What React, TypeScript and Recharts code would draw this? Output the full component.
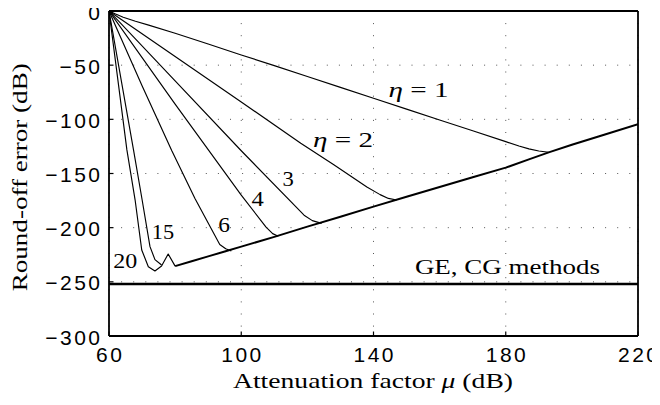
import React from 'react';
import { LineChart, Line, XAxis, YAxis, CartesianGrid, ReferenceDot, ReferenceLine } from 'recharts';

// ---- axes ----
const xTicks = [60, 100, 140, 180, 220];
const yTicks = [-300, -250, -200, -150, -100, -50, 0];

// ---- series (attenuation factor mu in dB, round-off error in dB) ----
const eta1X = [60, 62, 64.3, 68, 72, 80, 90, 100, 110, 120, 130, 140, 150, 160, 170, 180, 184, 187, 190, 193];
const eta1Y = [0, -2.8, -5.8, -9.5, -13, -20.5, -30.5, -40.6, -50.4, -60.4, -70.5, -80.6, -90.6, -100.6, -110.6, -120.6, -124.6, -127.3, -129.2, -130.4];

const eta2X = [60, 80, 100, 118, 128, 138, 142, 144.5, 147];
const eta2Y = [0, -42, -84, -122, -142, -162.5, -169.5, -173, -174.5];

const eta3X = [60, 80, 100, 119, 121.5, 124.3];
const eta3Y = [0, -64.5, -129, -188.5, -193.5, -196];

const eta4X = [60, 80, 100, 107.5, 109.5, 111.2];
const eta4Y = [0, -86, -170, -199.5, -205.5, -208];

const eta6X = [60, 70, 79, 86, 93.5, 95.3, 97];
const eta6Y = [0, -69, -129, -173, -215.5, -219.5, -221.5];

const eta15X = [60, 67.4, 70, 72.4, 73.9, 75.9];
const eta15Y = [0, -128, -174, -217.5, -229.5, -234.5];

const eta20X = [60, 65.4, 67.9, 69.9, 71.9, 73.9, 75.9, 77.9, 80];
const eta20Y = [0, -128, -174.5, -220.6, -236, -240, -235.4, -224.3, -235.5];

const floorX = [80, 85, 90, 95, 100, 110, 120, 130, 140, 150, 160, 170, 180, 187, 193, 200, 210, 220];
const floorY = [-235.5, -231, -226.5, -222, -217.5, -208.5, -199, -190, -180.6, -171.5, -162.5, -153.5, -144.6, -137, -130.5, -123.5, -114, -104.5];

const geX = [60, 220];
const geY = [-252, -252];

// ---- annotations ----
const annText = ['η = 1', 'η = 2', '3', '4', '6', '15', '20', 'GE, CG methods'];
const annX = [153.6, 130.8, 114.2, 105.0, 94.85, 76.3, 64.9, 180.5];
const annY = [-72.9, -118.8, -154.4, -173.7, -197.3, -204.0, -230.6, -236.0];

// ---- styling (not data) ----
const annWidths = [60, 60, 11.3, 12.3, 11.7, 22.3, 24, 185];
const SANS = "'Liberation Sans', Arial, Helvetica, sans-serif";
const SERIF = "'Liberation Serif', 'Times New Roman', serif";

const zip = (xs: number[], ys: number[]) => xs.map((x, i) => ({ x, y: ys[i] }));

const curves = [
  { key: 'ge', data: zip(geX, geY), w: 2.4 },
  { key: 'floor', data: zip(floorX, floorY), w: 2.0 },
  { key: 'eta1', data: zip(eta1X, eta1Y), w: 1.15 },
  { key: 'eta2', data: zip(eta2X, eta2Y), w: 1.15 },
  { key: 'eta3', data: zip(eta3X, eta3Y), w: 1.15 },
  { key: 'eta4', data: zip(eta4X, eta4Y), w: 1.15 },
  { key: 'eta6', data: zip(eta6X, eta6Y), w: 1.15 },
  { key: 'eta15', data: zip(eta15X, eta15Y), w: 1.15 },
  { key: 'eta20', data: zip(eta20X, eta20Y), w: 1.15 },
];

const fmt = (v: number) => (v < 0 ? '\u2212' + String(-v) : String(v));

const BottomTick = (p: any) => {
  const { x, y, payload } = p;
  return (
    <g>
      <line x1={x} x2={x} y1={y} y2={y - 4.5} stroke="#000" strokeWidth={1.2} />
      <text x={x + 1.25} y={y + 25.7} textAnchor="middle" fontFamily={SANS} fontSize={21} letterSpacing={2.5} fill="#000">
        {fmt(payload.value)}
      </text>
    </g>
  );
};

const LeftTick = (p: any) => {
  const { x, y, payload } = p;
  return (
    <g>
      <line x1={x} x2={x + 4.5} y1={y} y2={y} stroke="#000" strokeWidth={1.2} />
      <text x={x - 6.5} y={y + 8.5} textAnchor="end" fontFamily={SANS} fontSize={21} letterSpacing={2.5} fill="#000">
        {fmt(payload.value)}
      </text>
    </g>
  );
};

const TopTick = (p: any) => {
  const { x, y } = p;
  return <line x1={x} x2={x} y1={y} y2={y + 4.5} stroke="#000" strokeWidth={1.2} />;
};

const RightTick = (p: any) => {
  const { x, y } = p;
  return <line x1={x} x2={x - 4.5} y1={y} y2={y} stroke="#000" strokeWidth={1.2} />;
};

const YTitle = (props: any) => {
  const vb = props.viewBox || { x: 0, y: 11, width: 109, height: 325 };
  const cx = vb.x + 27;
  const cy = vb.y + vb.height / 2 + 3.8;
  return (
    <text
      x={cx}
      y={cy}
      transform={`rotate(-90, ${cx}, ${cy})`}
      textAnchor="middle"
      fontFamily={SERIF}
      fontSize={22}
      textLength={228}
      lengthAdjust="spacingAndGlyphs"
      fill="#000"
    >
      Round-off error (dB)
    </text>
  );
};

const XTitle = (props: any) => {
  const vb = props.viewBox || { x: 109, y: 336, width: 529, height: 69 };
  const cx = vb.x + vb.width / 2 - 0.5;
  const cy = vb.y + 52;
  return (
    <text x={cx} y={cy} textAnchor="middle" fontFamily={SERIF} fontSize={22} textLength={280} lengthAdjust="spacingAndGlyphs" fill="#000">
      <tspan>Attenuation factor </tspan>
      <tspan fontStyle="italic">μ</tspan>
      <tspan> (dB)</tspan>
    </text>
  );
};

const renderAnn = (i: number) => (p: any) => {
  const t = annText[i];
  const italicEta = t.startsWith('η');
  return (
    <text
      x={p.cx}
      y={p.cy}
      dy={7.3}
      textAnchor="middle"
      fontFamily={SERIF}
      fontSize={22}
      textLength={annWidths[i]}
      lengthAdjust="spacingAndGlyphs"
      fill="#000"
    >
      {italicEta ? (
        <>
          <tspan fontStyle="italic">η</tspan>
          <tspan>{t.slice(1)}</tspan>
        </>
      ) : (
        t
      )}
    </text>
  );
};

export default function App() {
  return (
    <div style={{ margin: '-8px 0 0 -8px', width: 660, height: 405 }}>
      <LineChart width={660} height={405} margin={{ top: 11, right: 22, left: 0, bottom: 0 }}>
        <CartesianGrid stroke="#555" strokeWidth={1} strokeDasharray="1 11.1" />
        <XAxis
          dataKey="x"
          type="number"
          domain={[60, 220]}
          ticks={xTicks}
          interval={0}
          allowDataOverflow
          height={69}
          tickSize={0}
          tickMargin={0}
          tickLine={false}
          tick={BottomTick}
          axisLine={{ stroke: '#000', strokeWidth: 1.8 }}
          label={{ content: XTitle }}
        />
        <XAxis
          xAxisId="top"
          orientation="top"
          dataKey="x"
          type="number"
          domain={[60, 220]}
          ticks={xTicks}
          interval={0}
          allowDataOverflow
          height={0}
          tickSize={0}
          tickMargin={0}
          tickLine={false}
          tick={TopTick}
          axisLine={{ stroke: '#000', strokeWidth: 1.8 }}
        />
        <YAxis
          dataKey="y"
          type="number"
          domain={[-300, 0]}
          ticks={yTicks}
          interval={0}
          allowDataOverflow
          width={109}
          tickSize={0}
          tickMargin={0}
          tickLine={false}
          tick={LeftTick}
          axisLine={{ stroke: '#000', strokeWidth: 1.8 }}
          label={{ content: YTitle }}
        />
        <YAxis
          yAxisId="right"
          orientation="right"
          dataKey="y"
          type="number"
          domain={[-300, 0]}
          ticks={yTicks}
          interval={0}
          allowDataOverflow
          width={0}
          tickSize={0}
          tickMargin={0}
          tickLine={false}
          tick={RightTick}
          axisLine={{ stroke: '#000', strokeWidth: 1.8 }}
        />
        <ReferenceLine y={0} stroke="#000" strokeWidth={1.8} ifOverflow="visible" />
        <ReferenceLine x={220} stroke="#000" strokeWidth={1.8} ifOverflow="visible" />
        {curves.map((c) => (
          <Line
            key={c.key}
            data={c.data}
            dataKey="y"
            type="linear"
            stroke="#000"
            strokeWidth={c.w}
            dot={false}
            activeDot={false}
            isAnimationActive={false}
            strokeLinejoin="round"
          />
        ))}
        {annText.map((t, i) => (
          <ReferenceDot key={t} x={annX[i]} y={annY[i]} r={0} ifOverflow="visible" shape={renderAnn(i)} />
        ))}
      </LineChart>
    </div>
  );
}
